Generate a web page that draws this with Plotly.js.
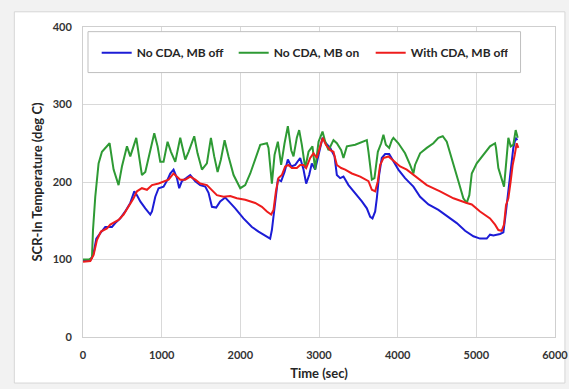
<!DOCTYPE html>
<html>
<head>
<meta charset="utf-8">
<script src="https://cdn.plot.ly/plotly-3.0.1.min.js"></script>
<style>html,body{margin:0;padding:0;background:#fff;}#chart{width:569px;height:389px;}</style>
</head>
<body>
<div id="chart"></div>
<script>
// Series names
const seriesNames = ["No CDA, MB off", "No CDA, MB on", "With CDA, MB off"];
// [time (sec), SCR-In temperature (deg C)]
const noCdaMbOff = [[0,99],[93,99],[135,108],[169,127],[220,134],[283,142],[368,142],[410,147],[474,153],[537,162],[601,173],[652,188],[686,183],[728,175],[792,166],[855,158],[877,162],[919,181],[961,192],[1024,194],[1075,203],[1109,211],[1151,216],[1194,205],[1223,192],[1257,201],[1312,205],[1363,209],[1427,201],[1490,196],[1554,194],[1596,186],[1639,168],[1693,167],[1744,175],[1808,180],[1871,173],[1935,166],[2040,153],[2147,142],[2231,136],[2316,131],[2379,127],[2401,138],[2443,175],[2477,203],[2519,201],[2562,213],[2604,229],[2647,220],[2698,222],[2761,231],[2803,216],[2837,198],[2875,209],[2909,224],[2951,216],[2994,235],[3045,257],[3087,250],[3142,244],[3197,233],[3227,209],[3269,205],[3311,207],[3375,196],[3460,186],[3545,175],[3608,166],[3651,155],[3680,153],[3714,162],[3735,179],[3764,209],[3798,231],[3841,236],[3892,236],[3946,226],[4009,216],[4094,205],[4200,194],[4285,181],[4391,171],[4518,164],[4645,155],[4751,147],[4857,137],[4963,130],[5047,127],[5132,127],[5174,132],[5217,131],[5301,133],[5344,135],[5377,162],[5407,188],[5437,218],[5470,244],[5500,257],[5521,254]];
const noCdaMbOn = [[0,100],[78,100],[114,102],[127,138],[156,181],[198,224],[241,239],[283,244],[338,250],[389,216],[452,196],[495,220],[559,246],[601,233],[643,248],[677,257],[707,237],[749,209],[792,213],[855,241],[906,263],[948,246],[982,226],[1024,226],[1075,252],[1118,239],[1173,226],[1236,257],[1300,229],[1342,239],[1414,259],[1456,237],[1512,216],[1575,224],[1626,257],[1668,233],[1711,213],[1753,229],[1800,254],[1850,233],[1914,209],[1999,192],[2062,196],[2126,211],[2189,229],[2253,248],[2338,250],[2358,244],[2401,198],[2435,235],[2477,252],[2519,222],[2562,250],[2604,272],[2647,241],[2676,233],[2718,257],[2748,267],[2782,248],[2825,218],[2867,239],[2917,246],[2951,216],[2994,252],[3045,265],[3079,252],[3121,241],[3184,254],[3227,250],[3282,241],[3311,231],[3354,246],[3460,248],[3608,254],[3629,239],[3672,203],[3705,205],[3748,239],[3790,250],[3819,261],[3850,248],[3892,244],[3926,254],[3946,257],[4009,250],[4094,237],[4158,222],[4200,211],[4221,222],[4285,237],[4370,244],[4454,250],[4517,257],[4573,259],[4624,252],[4688,231],[4772,201],[4835,179],[4878,173],[4911,183],[4942,211],[5005,224],[5089,235],[5174,246],[5238,250],[5250,244],[5280,218],[5322,205],[5352,194],[5377,222],[5394,248],[5407,257],[5437,246],[5470,248],[5500,267],[5526,257]];
const withCdaMbOff = [[0,97],[93,98],[135,106],[177,125],[228,136],[305,140],[347,145],[389,147],[452,151],[516,158],[579,168],[643,179],[686,188],[749,192],[813,190],[877,196],[961,198],[1024,201],[1088,203],[1151,211],[1194,207],[1236,203],[1300,203],[1363,207],[1427,203],[1490,198],[1575,196],[1639,190],[1702,183],[1787,181],[1871,182],[1956,179],[2062,177],[2189,173],[2274,168],[2338,162],[2392,158],[2422,164],[2452,188],[2485,205],[2528,209],[2570,220],[2612,222],[2655,218],[2718,218],[2761,222],[2803,222],[2837,218],[2888,231],[2930,237],[2973,231],[3015,246],[3049,257],[3087,248],[3142,241],[3184,239],[3227,222],[3282,218],[3333,216],[3418,211],[3524,207],[3629,201],[3672,190],[3714,188],[3748,201],[3777,222],[3819,231],[3883,233],[3926,229],[3968,226],[4031,220],[4116,216],[4179,211],[4243,205],[4370,196],[4539,188],[4709,179],[4878,173],[4942,171],[5047,162],[5174,153],[5238,145],[5280,138],[5322,137],[5352,145],[5377,170],[5407,179],[5437,201],[5462,222],[5488,235],[5513,250],[5534,244]];
const xTicks = [0, 1000, 2000, 3000, 4000, 5000, 6000];
const yTicks = [0, 100, 200, 300, 400];

const colors = ["#1c1cd6", "#2e9a34", "#ee1c1c"];
const seriesData = [noCdaMbOff, noCdaMbOn, withCdaMbOff];

const traces = seriesData.map((pts, i) => ({
  type: "scatter", mode: "lines", name: seriesNames[i],
  x: pts.map(p => p[0]), y: pts.map(p => p[1]),
  line: {color: colors[i], width: 2}
}));

const FONT = "Lato, 'Open Sans', sans-serif";
const layout = {
  width: 569, height: 389,
  margin: {l: 83, r: 14, t: 27, b: 52},
  paper_bgcolor: "#f2f2f2", plot_bgcolor: "#ffffff",
  font: {family: FONT, color: "#333333"},
  showlegend: true,
  legend: {
    orientation: "h", x: 0.029, xanchor: "left", y: 0.917, yanchor: "middle",
    bgcolor: "rgba(0,0,0,0)", borderwidth: 0,
    font: {family: FONT, size: 12, color: "#262626", weight: "bold"},
    entrywidth: 92, entrywidthmode: "pixels", itemwidth: 30
  },
  xaxis: {
    range: [0, 6000], tickvals: xTicks, ticktext: xTicks.map(String),
    showgrid: true, gridcolor: "#d9d9d9", gridwidth: 1,
    zeroline: false, showline: true, linecolor: "#cfcfcf", mirror: true,
    ticks: "", ticklabelstandoff: 8,
    tickfont: {family: FONT, size: 11, color: "#333333", weight: "bold"},
    title: {text: "Time (sec)", font: {family: FONT, size: 13, color: "#262626", weight: "bold"}, standoff: 8}
  },
  yaxis: {
    range: [0, 400], tickvals: yTicks, ticktext: yTicks.map(String),
    showgrid: true, gridcolor: "#d9d9d9", gridwidth: 1,
    zeroline: false, showline: true, linecolor: "#cfcfcf", mirror: true,
    ticks: "", ticklabelstandoff: 8,
    tickfont: {family: FONT, size: 11, color: "#333333", weight: "bold"},
    title: {text: "SCR-In Temperature (deg C)", font: {family: FONT, size: 13, color: "#262626", weight: "bold"}, standoff: 7}
  },
  shapes: [
    {type: "rect", xref: "paper", yref: "paper", x0: -0.1455, x1: 1.021, y0: -0.1485, y1: 1.049,
     fillcolor: "#ffffff", line: {color: "#d6d6d6", width: 1}, layer: "below"},
    {type: "rect", xref: "paper", yref: "paper", x0: 0.0106, x1: 0.927, y0: 0.853, y1: 0.985,
     fillcolor: "#ffffff", line: {color: "#bfbfbf", width: 1}, layer: "above"}
  ]
};

Plotly.newPlot("chart", traces, layout, {displayModeBar: false, staticPlot: true});
</script>
</body>
</html>
